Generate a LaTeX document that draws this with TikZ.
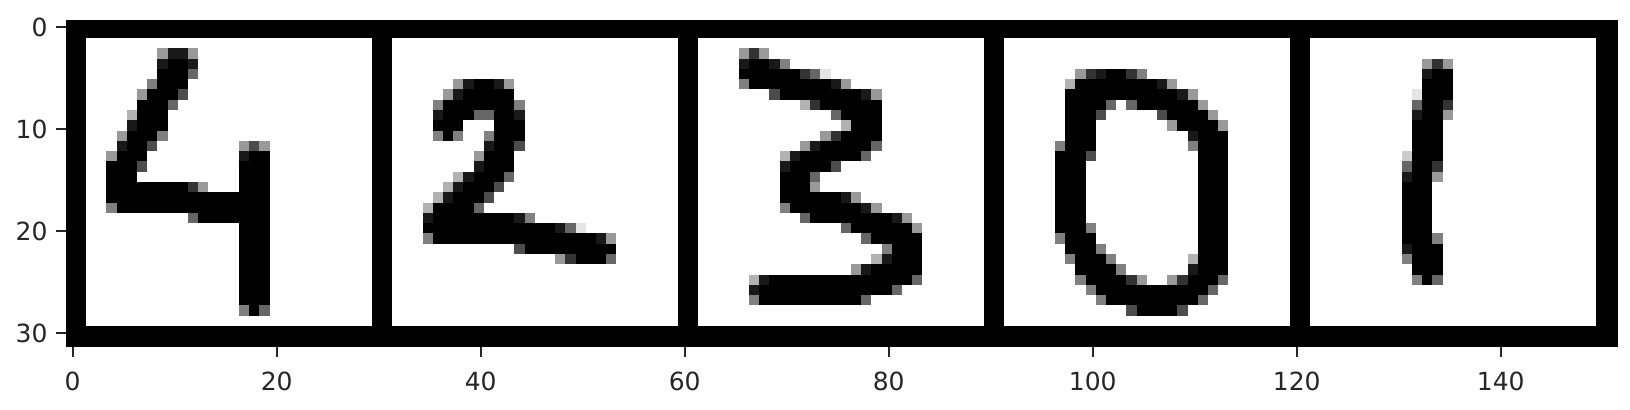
\documentclass[tikz,border=0pt]{standalone}
\usepackage{fontspec}
\setmainfont{DejaVu Sans}
\definecolor{axisink}{HTML}{262626}
\makeatletter
\newcount\cellk
\def\P#1{\def\curpanel{#1}}
\def\R#1#2#3{\def\currow{#1}\cellk=#2\relax\R@scan#3\relax}
\def\R@scan#1{\ifx#1\relax\let\R@next\relax\else\R@cell#1\advance\cellk by 1\relax\let\R@next\R@scan\fi\R@next}
\def\R@cell#1{\ifx#1.\else
  \ifx#1x\def\R@g{0}\else\def\R@g{#1}\fi
  \edef\R@c{\the\numexpr100-10*\R@g\relax}%
  \edef\R@xa{\the\numexpr(860+3060*\curpanel+102*\cellk)/10\relax}%
  \edef\R@xb{\the\numexpr(860+3060*\curpanel+102*(\cellk+1))/10\relax}%
  \edef\R@ya{\the\numexpr38+\currow*288/28\relax}%
  \edef\R@yb{\the\numexpr38+(\currow+1)*288/28\relax}%
  \fill[black!\R@c] (\R@xa,\R@ya) rectangle (\R@xb.3,\R@yb.3);%
\fi}
\makeatother
\tikzset{
  ticklabel/.style={inner sep=0pt,outer sep=0pt,text=axisink,font=\fontsize{25bp}{30bp}\selectfont},
  tickmark/.style={draw=axisink,line width=2bp}
}
\begin{document}
\begin{tikzpicture}[x=1bp,y=-1bp]
\useasboundingbox (0,0) rectangle (1630,409);
\fill[white] (0,0) rectangle (1630,409);
% frame
\fill[black] (66,20) rectangle (1618,347);
\foreach \p in {0,...,4} {
  \fill[white] ({86+306*\p},38) rectangle ({371.6+306*\p},326);
}
% digit 4
\P{0}
\R{1}{7}{6116}\R{2}{7}{1xx1}\R{3}{7}{xxx4}\R{4}{6}{5xxx}\R{5}{5}{6xxx3}
\R{6}{5}{xxx4}\R{7}{4}{7xxx}\R{8}{4}{1xxx}\R{9}{3}{6xxx5}\R{10}{3}{1xx3}
\R{11}{2}{6xxx}\R{12}{2}{xxx3}\R{13}{2}{xxx}\R{14}{2}{xxxxxxxx26}
\R{15}{2}{xxxxxxxxxxxxxxxx}\R{16}{2}{5xxxxxxxxxxxxxxx}\R{17}{10}{4xxxxxxx}
\R{10}{15}{636}\R{11}{15}{1xx}\R{12}{15}{xxx}\R{13}{15}{xxx}\R{14}{15}{xxx}
\R{18}{15}{xxx}\R{19}{15}{xxx}\R{20}{15}{xxx}\R{21}{15}{xxx}\R{22}{15}{xxx}
\R{23}{15}{xxx}\R{24}{15}{xxx}\R{25}{15}{xxx}\R{26}{15}{5x4}
% digit 2
\P{1}
\R{4}{6}{61xx16}\R{5}{5}{61xxxxx}\R{6}{4}{5xxxxxxx5}\R{7}{4}{1xxx44xx1}
\R{8}{4}{xxx...xxx}\R{9}{4}{5x5..5xxx}\R{10}{9}{1xx3}\R{11}{8}{6xxx}
\R{12}{8}{1xxx}\R{13}{6}{71xxx4}\R{14}{5}{71xxx3}\R{15}{4}{71xxx3}
\R{16}{3}{7xxxx4}\R{17}{3}{1xxxxxxxx15}\R{18}{3}{xxxxxxxxxxxxx149}
\R{19}{3}{5xxxxxxxxxxxxxxxx16}\R{20}{12}{3xxxxxxxxx}\R{21}{16}{62xxx4}
% digit 3
\P{2}
\R{1}{4}{626}\R{2}{4}{1xx15}\R{3}{4}{xxxxxx249}\R{4}{4}{5xxxxxxxx16}
\R{5}{7}{3xxxxxxxx16}\R{6}{10}{72xxxxxx}\R{7}{13}{4xxxx}\R{8}{14}{7xxx}
\R{9}{12}{62xxxx}\R{10}{10}{61xxxxx4}\R{11}{8}{71xxxxxx4}\R{12}{8}{1xxxx3}
\R{13}{8}{xxx4}\R{14}{8}{xxx6}\R{15}{8}{xxxxxx16}\R{16}{8}{5xxxxxxx16}
\R{17}{10}{4xxxxxxxx16}\R{18}{14}{4xxxxxx6}\R{19}{16}{4xxxxx}\R{20}{18}{5xxx}
\R{21}{17}{71xxx}\R{22}{15}{61xxxxx}\R{23}{5}{71xxxxxxxxxxxxxx4}
\R{24}{5}{1xxxxxxxxxxxxx4}\R{25}{5}{5xxxxxxxxxx4}
% digit 0
\P{3}
\R{3}{7}{621xx25}\R{4}{6}{7xxxxxxxx16}\R{5}{6}{xxxxxxxxxxx16}\R{6}{6}{xxxx4.4xxxxxx6}
\R{7}{6}{xxx3}\R{7}{15}{3xxxx6}\R{8}{6}{xxx}\R{8}{16}{6xxxx6}
\R{9}{6}{xxx}\R{9}{18}{1xxx}\R{10}{5}{5xxx}\R{10}{18}{5xxx}
\R{11}{5}{xxx3}\R{11}{19}{xxx}
\R{12}{5}{xxx}\R{12}{19}{xxx}\R{13}{5}{xxx}\R{13}{19}{xxx}\R{14}{5}{xxx}\R{14}{19}{xxx}
\R{15}{5}{xxx}\R{15}{19}{xxx}\R{16}{5}{xxx}\R{16}{19}{xxx}\R{17}{5}{xxx}\R{17}{19}{xxx}
\R{18}{5}{xxx5}\R{18}{19}{xxx}\R{19}{5}{5xxx}\R{19}{19}{xxx}\R{20}{6}{xxx5}\R{20}{19}{xxx}
\R{21}{6}{5xxx5}\R{21}{18}{7xxx}\R{22}{7}{xxxx5}\R{22}{18}{1xxx}
\R{23}{7}{5xxxx26}\R{23}{16}{62xxx4}\R{24}{8}{5xxxxxxxxxxx4}\R{25}{9}{5xxxxxxxxx4}
\R{26}{12}{3xxxx3}
% digit 1
\P{4}
\R{2}{11}{626}\R{3}{11}{1xx}\R{4}{11}{xxx}\R{5}{10}{9xxx}\R{6}{10}{4xx2}\R{7}{10}{1xx6}
\R{8}{10}{xxx}\R{9}{10}{xxx}\R{10}{10}{xxx}\R{11}{9}{8xxx}\R{12}{9}{4xx2}\R{13}{9}{1xx6}
\R{14}{9}{xxx}\R{15}{9}{xxx}\R{16}{9}{xxx}\R{17}{9}{xxx}\R{18}{9}{xxx}\R{19}{9}{xxx5}
\R{20}{9}{1xxx}\R{21}{9}{5xxx}\R{22}{10}{xxx}\R{23}{10}{5x4}
% x ticks
\foreach \v [count=\i from 0] in {0,20,40,60,80,100,120,140} {
  \coordinate (xt\i) at ({72.7+204*\i},347);
  \draw[tickmark] (xt\i) -- ++(0,10);
  \node[ticklabel,anchor=base] (xl\i) at ({72.7+204*\i},390) {\v};
}
% y ticks
\foreach \v [count=\i from 0] in {0,10,20,30} {
  \coordinate (yt\i) at (66,{26.7+102*\i});
  \draw[tickmark] (yt\i) -- ++(-10,0);
  \node[ticklabel,anchor=base east] (yl\i) at (47.5,{36.8+102*\i}) {\v};
}
\end{tikzpicture}
\end{document}
